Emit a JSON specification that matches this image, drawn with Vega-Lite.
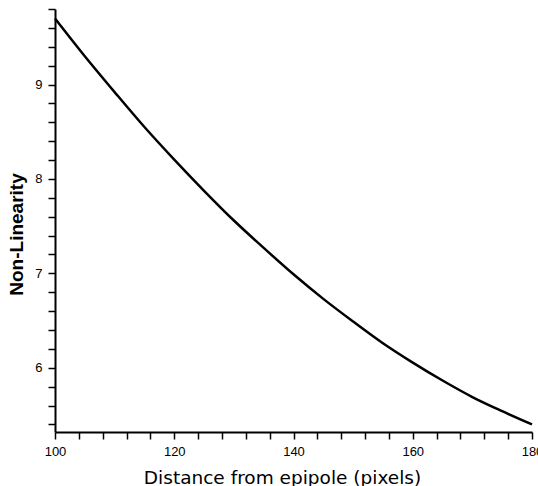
{
  "$schema": "https://vega.github.io/schema/vega-lite/v6.json",
  "width": 477,
  "height": 423,
  "autosize": {"type": "none"},
  "padding": {"left": 55, "top": 9, "right": 6, "bottom": 54},
  "config": {
    "view": {"stroke": null},
    "axis": {"grid": false, "domainColor": "black", "tickColor": "black", "labelColor": "black", "titleColor": "black", "labelFont": "Liberation Sans", "titleFont": "Liberation Sans"}
  },
  "data": {
    "values": [
      {"d": 100, "nl": 9.70},
      {"d": 105, "nl": 9.30},
      {"d": 110, "nl": 8.92},
      {"d": 115, "nl": 8.55},
      {"d": 120, "nl": 8.205},
      {"d": 125, "nl": 7.875},
      {"d": 130, "nl": 7.56},
      {"d": 135, "nl": 7.27},
      {"d": 140, "nl": 6.99},
      {"d": 145, "nl": 6.73},
      {"d": 150, "nl": 6.49},
      {"d": 155, "nl": 6.26},
      {"d": 160, "nl": 6.055},
      {"d": 165, "nl": 5.865},
      {"d": 170, "nl": 5.69},
      {"d": 175, "nl": 5.54},
      {"d": 180, "nl": 5.40}
    ]
  },
  "mark": {"type": "line", "color": "black", "strokeWidth": 2.5, "interpolate": "monotone"},
  "encoding": {
    "x": {
      "field": "d", "type": "quantitative",
      "scale": {"domain": [100, 180], "nice": false, "zero": false},
      "axis": {
        "title": "Distance from epipole (pixels)",
        "titleFont": "DejaVu Sans",
        "titleFontSize": 18.5, "titleFontWeight": "normal", "titlePadding": 10, "titleX": 227,
        "values": [100,104,108,112,116,120,124,128,132,136,140,144,148,152,156,160,164,168,172,176,180],
        "labelExpr": "datum.value % 20 === 0 ? datum.label : ''",
        "labelFontSize": 13, "labelPadding": 6, "tickSize": 7, "tickWidth": 1.5, "domainWidth": 2, "labelFlush": false
      }
    },
    "y": {
      "field": "nl", "type": "quantitative",
      "scale": {"domain": [5.32, 9.8], "nice": false, "zero": false},
      "axis": {
        "title": "Non-Linearity",
        "titleFontSize": 19, "titleFontWeight": "bold", "titlePadding": 8, "titleY": 225,
        "values": [5.4,5.6,5.8,6,6.2,6.4,6.6,6.8,7,7.2,7.4,7.6,7.8,8,8.2,8.4,8.6,8.8,9,9.2,9.4,9.6,9.8],
        "labelExpr": "abs(datum.value - round(datum.value)) < 0.01 ? format(datum.value, 'd') : ''",
        "labelFontSize": 13, "labelPadding": 6, "tickSize": 7, "tickWidth": 1.5, "domainWidth": 2
      }
    }
  }
}
